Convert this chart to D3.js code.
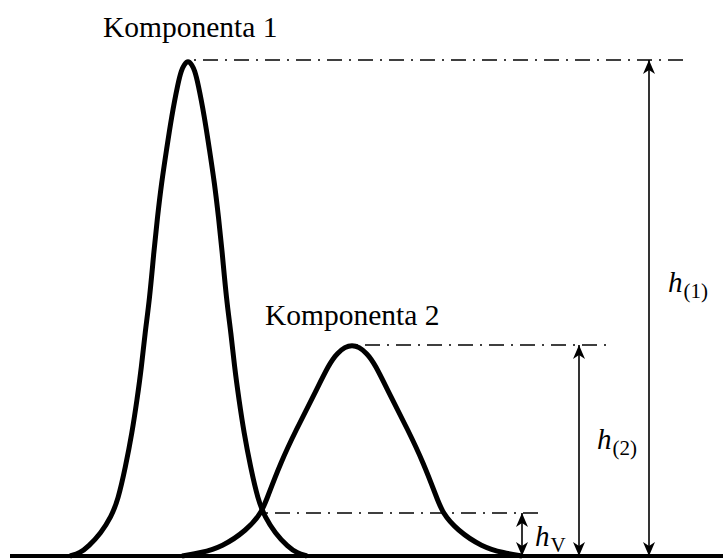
<!DOCTYPE html>
<html>
<head>
<meta charset="utf-8">
<script src="https://cdn.jsdelivr.net/npm/d3@7"></script>
<style>
  html, body { margin: 0; padding: 0; background: #fff; }
  svg { display: block; }
</style>
</head>
<body>
<svg id="chart" width="723" height="559"></svg>
<script>
// ---- Data ----
// Component 1: time units vs. signal units
const comp1Time   = [60, 70, 78, 91, 101, 108, 115.5, 122, 127, 131.5, 135, 139.5, 144, 147.5, 151.5, 156.5, 161.5, 168, 171.5, 174, 178,
                     182, 184.5, 188, 194.5, 199.5, 204.5, 208.5, 212, 216.5, 221, 224.5, 229, 234, 240.5, 248, 255, 265, 278, 287, 297];
const comp1Signal = [0, 3, 9, 23, 39, 56, 89, 123, 156, 189, 223, 256, 306, 339, 373, 406, 439, 473, 486, 491, 496,
                     491, 486, 473, 439, 406, 373, 339, 306, 256, 223, 189, 156, 123, 89, 56, 39, 23, 9, 3, 0];
// Component 2
const comp2Time   = [172, 190, 212, 237, 251.5, 257.5, 270.5, 286, 303, 319.5, 327.5, 335, 342, 349, 356.5, 364.5, 381, 398, 413.5, 426.5, 432.5, 447, 472, 494, 512];
const comp2Signal = [0, 3, 9, 26, 43, 59, 93, 126, 159, 193, 203, 209, 211, 209, 203, 193, 159, 126, 93, 59, 43, 26, 9, 3, 0];

const labels = ["Komponenta 1", "Komponenta 2"];
const peak1 = { t: 178, s: 496 };
const peak2 = { t: 342, s: 211 };
const valley = { t: 252, s: 43 };
const arrowT = { h1: 639, h2: 569, hv: 512 };
const dashEnd = { h1: 676, h2: 602, hv: 535 };
const axisRange = [0, 713];

const FONT = "'Liberation Serif', 'Times New Roman', 'DejaVu Serif', serif";

// ---- Scales ----
const x = d3.scaleLinear().domain([0, 713]).range([10, 723]);
const y = d3.scaleLinear().domain([0, 496]).range([556, 60]);

const svg = d3.select("#chart");

const defs = svg.append("defs");
defs.append("marker")
  .attr("id", "arr")
  .attr("viewBox", "0 0 14 12")
  .attr("refX", 14).attr("refY", 6)
  .attr("markerWidth", 14).attr("markerHeight", 12)
  .attr("markerUnits", "userSpaceOnUse")
  .attr("orient", "auto-start-reverse")
  .append("path")
  .attr("d", "M0,0 L14,6 L0,12 L4,6 Z")
  .attr("fill", "#000");

// Baseline
svg.append("line")
  .attr("x1", x(axisRange[0])).attr("x2", x(axisRange[1]))
  .attr("y1", y(0)).attr("y2", y(0))
  .attr("stroke", "#000").attr("stroke-width", 4);

// Dash-dot reference lines
const dashData = [
  { t0: peak1.t + 2, t1: dashEnd.h1, s: peak1.s },
  { t0: peak2.t, t1: dashEnd.h2, s: peak2.s },
  { t0: valley.t, t1: dashEnd.hv, s: valley.s }
];
svg.selectAll(".dd").data(dashData).enter().append("line")
  .attr("class", "dd")
  .attr("x1", d => x(d.t0) + 4).attr("x2", d => x(d.t1))
  .attr("y1", d => y(d.s)).attr("y2", d => y(d.s))
  .attr("stroke", "#000").attr("stroke-width", 1.5)
  .attr("stroke-dasharray", "2,7,15,7");

// Curves
const line = d3.line().x(d => x(d[0])).y(d => y(d[1])).curve(d3.curveBasis);
const c1 = comp1Time.map((t, i) => [t, comp1Signal[i]]);
const c2 = comp2Time.map((t, i) => [t, comp2Signal[i]]);
[c1, c2].forEach(c => {
  svg.append("path").attr("d", line(c))
    .attr("fill", "none").attr("stroke", "#000")
    .attr("stroke-width", 5).attr("stroke-linejoin", "round");
});

// Double-headed arrows
const arrows = [
  { t: arrowT.h1, s: peak1.s },
  { t: arrowT.h2, s: peak2.s },
  { t: arrowT.hv, s: valley.s }
];
svg.selectAll(".ar").data(arrows).enter().append("line")
  .attr("class", "ar")
  .attr("x1", d => x(d.t)).attr("x2", d => x(d.t))
  .attr("y1", d => y(0)).attr("y2", d => y(d.s))
  .attr("stroke", "#000").attr("stroke-width", 1.6)
  .attr("marker-start", "url(#arr)").attr("marker-end", "url(#arr)");

// Component labels
svg.append("text").attr("x", 103).attr("y", 37)
  .attr("font-family", FONT).attr("font-size", 29.5).text(labels[0]);
svg.append("text").attr("x", 265).attr("y", 325)
  .attr("font-family", FONT).attr("font-size", 29.5).text(labels[1]);

// h labels
function hLabel(px, py, sub) {
  const t = svg.append("text").attr("x", px).attr("y", py).attr("font-family", FONT);
  t.append("tspan").attr("font-size", 29).attr("font-style", "italic").text("h");
  t.append("tspan").attr("font-size", 21).attr("dx", 1).attr("dy", 6).text(sub);
}
hLabel(668, 292, "(1)");
hLabel(597, 449, "(2)");
hLabel(535, 546, "V");
</script>
</body>
</html>
